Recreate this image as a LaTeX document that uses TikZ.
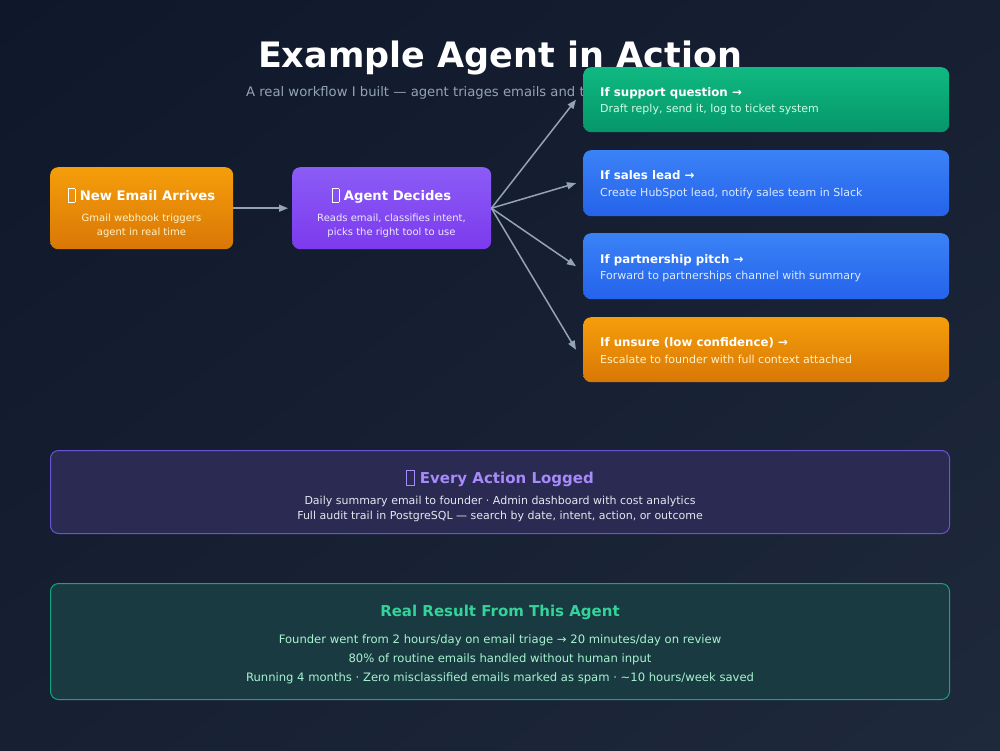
\documentclass[tikz,border=0pt]{standalone}
\usepackage{fontspec}
\setmainfont{DejaVu Sans}
\usetikzlibrary{arrows.meta,shadings}
\definecolor{bgA}{HTML}{0F172A}
\definecolor{bgM}{HTML}{172033}
\definecolor{bgB}{HTML}{1E293B}
\definecolor{orA}{HTML}{F59E0B}
\definecolor{orB}{HTML}{D97706}
\definecolor{puA}{HTML}{8B5CF6}
\definecolor{puB}{HTML}{7C3AED}
\definecolor{grA}{HTML}{10B981}
\definecolor{grB}{HTML}{059669}
\definecolor{blA}{HTML}{3B82F6}
\definecolor{blB}{HTML}{2563EB}
\definecolor{arrowc}{HTML}{94A3B8}
\definecolor{subc}{HTML}{94A3B8}
\definecolor{logfill}{HTML}{2A2A52}
\definecolor{logdraw}{HTML}{6D52D6}
\definecolor{logtitle}{HTML}{A78BFA}
\definecolor{logtext}{HTML}{E2E8F0}
\definecolor{resfill}{HTML}{1A3A42}
\definecolor{resdraw}{HTML}{13A57C}
\definecolor{restitle}{HTML}{34D399}
\definecolor{restext}{HTML}{A7F3D0}
\definecolor{ortext}{HTML}{FEF3C7}
\definecolor{putext}{HTML}{EDE9FE}
\definecolor{grtext}{HTML}{D1FAE5}
\definecolor{bltext}{HTML}{DBEAFE}
\newcommand\tofu{\raisebox{-0.12em}{\setlength\fboxsep{0pt}\setlength\fboxrule{0.6pt}\fbox{\rule{0pt}{0.95em}\hspace{0.48em}}}}
\begin{document}
\begin{tikzpicture}[x=1pt,y=-1pt,
  box/.style={rectangle, rounded corners=8pt, draw=none, inner sep=0pt, anchor=north west},
  txt/.style={anchor=base, inner sep=0pt, text=white},
  ltxt/.style={anchor=base west, inner sep=0pt, text=white},
  conn/.style={draw=arrowc, line width=1.5pt, -{Triangle[length=9pt,width=7pt]}},
  h1/.style={font=\fontsize{35}{40}\selectfont\bfseries},
  h2/.style={font=\fontsize{13.2}{16}\selectfont\bfseries},
  h3/.style={font=\fontsize{11.8}{14}\selectfont\bfseries},
  h4/.style={font=\fontsize{15}{18}\selectfont\bfseries},
  s10/.style={font=\fontsize{10}{12}\selectfont},
  s11/.style={font=\fontsize{11}{13}\selectfont},
  s12/.style={font=\fontsize{11.6}{14}\selectfont},
  s13/.style={font=\fontsize{13.2}{16}\selectfont}]
\useasboundingbox (0,0) rectangle (1000,750);
\shade[upper left=bgA, upper right=bgM, lower left=bgM, lower right=bgB] (0,0) rectangle (1000,750);

% title
\node[txt, h1] (title) at (500,67) {Example Agent in Action};
\node[txt, s13, text=subc] (subtitle) at (500,96) {A real workflow I built — agent triages emails and takes action automatically};

% left boxes
\node[box, minimum width=183pt, minimum height=82pt, top color=orA, bottom color=orB] (email) at (50,167) {};
\node[txt, h2] (emailT) at (141.5,200) {\tofu\ New Email Arrives};
\node[txt, s10, text=ortext] (emailS1) at (141.5,221) {Gmail webhook triggers};
\node[txt, s10, text=ortext] (emailS2) at (141.5,235) {agent in real time};

\node[box, minimum width=199pt, minimum height=82pt, top color=puA, bottom color=puB] (agent) at (292,167) {};
\node[txt, h2] (agentT) at (391.5,200) {\tofu\ Agent Decides};
\node[txt, s10, text=putext] (agentS1) at (391.5,221) {Reads email, classifies intent,};
\node[txt, s10, text=putext] (agentS2) at (391.5,235) {picks the right tool to use};

% right boxes
\node[box, minimum width=366pt, minimum height=65pt, top color=grA, bottom color=grB] (sup) at (583,67) {};
\node[ltxt, h3] (supT) at (600,96) {If support question →};
\node[ltxt, s11, text=grtext] (supS) at (600,112) {Draft reply, send it, log to ticket system};

\node[box, minimum width=366pt, minimum height=66pt, top color=blA, bottom color=blB] (sales) at (583,150) {};
\node[ltxt, h3] (salesT) at (600,179) {If sales lead →};
\node[ltxt, s11, text=bltext] (salesS) at (600,196) {Create HubSpot lead, notify sales team in Slack};

\node[box, minimum width=366pt, minimum height=66pt, top color=blA, bottom color=blB] (part) at (583,233) {};
\node[ltxt, h3] (partT) at (600,263) {If partnership pitch →};
\node[ltxt, s11, text=bltext] (partS) at (600,279) {Forward to partnerships channel with summary};

\node[box, minimum width=366pt, minimum height=65pt, top color=orA, bottom color=orB] (unsure) at (583,317) {};
\node[ltxt, h3] (unsureT) at (600,346) {If unsure (low confidence) →};
\node[ltxt, s11, text=ortext] (unsureS) at (600,363) {Escalate to founder with full context attached};

% connectors
\draw[conn] (email.east) -- ([xshift=-4pt]agent.west);
\draw[conn] (agent.east) -- ([xshift=-7pt]sup.west);
\draw[conn] (agent.east) -- ([xshift=-7pt]sales.west);
\draw[conn] (agent.east) -- ([xshift=-7pt]part.west);
\draw[conn] (agent.east) -- ([xshift=-7pt]unsure.west);

% logged box
\node[box, minimum width=899pt, minimum height=83pt, fill=logfill, draw=logdraw, line width=1pt] (logged) at (50,450) {};
\node[txt, h4, text=logtitle] (loggedT) at (500,483) {\tofu\ Every Action Logged};
\node[txt, s11, text=logtext] (loggedS1) at (500,504) {Daily summary email to founder · Admin dashboard with cost analytics};
\node[txt, s11, text=logtext] (loggedS2) at (500,519) {Full audit trail in PostgreSQL — search by date, intent, action, or outcome};

% result box
\node[box, minimum width=899pt, minimum height=116pt, fill=resfill, draw=resdraw, line width=1pt] (result) at (50,583) {};
\node[txt, h4, text=restitle] (resultT) at (500,616) {Real Result From This Agent};
\node[txt, s12, text=restext] (resultS1) at (500,643) {Founder went from 2 hours/day on email triage → 20 minutes/day on review};
\node[txt, s12, text=restext] (resultS2) at (500,662) {80\% of routine emails handled without human input};
\node[txt, s12, text=restext] (resultS3) at (500,681) {Running 4 months · Zero misclassified emails marked as spam · \textasciitilde10 hours/week saved};
\end{tikzpicture}
\end{document}
